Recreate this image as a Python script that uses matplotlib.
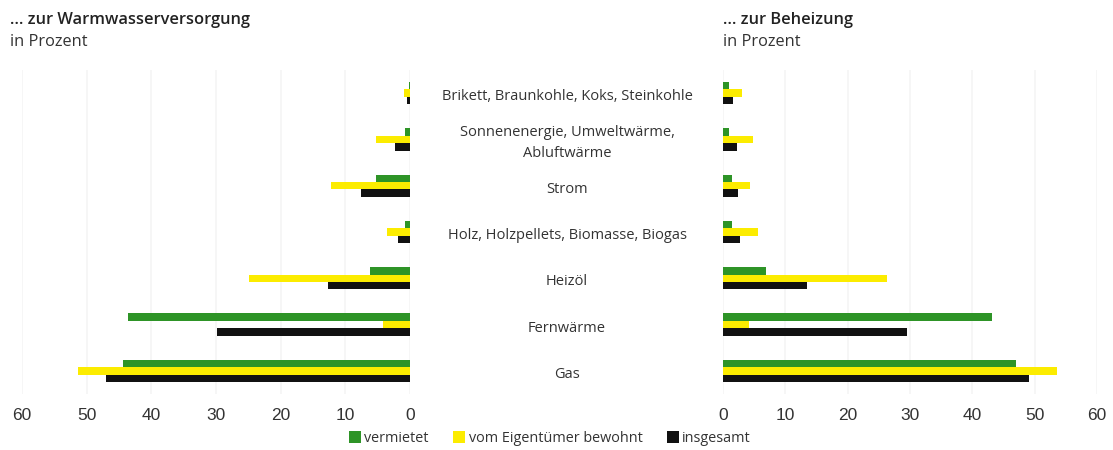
import matplotlib
matplotlib.use("Agg")
import matplotlib.pyplot as plt
import numpy as np
from matplotlib.patches import Patch

categories = ["Gas", "Fernwärme", "Heizöl", "Holz, Holzpellets, Biomasse, Biogas",
              "Strom", "Sonnenenergie, Umweltwärme,\nAbluftwärme",
              "Brikett, Braunkohle, Koks, Steinkohle"]
series = ["vermietet", "vom Eigentümer bewohnt", "insgesamt"]

# Warmwasserversorgung
ww_vermietet = [44.4, 43.6, 6.2, 0.8, 5.3, 0.8, 0.1]
ww_eigentuemer = [51.4, 4.2, 24.9, 3.6, 12.2, 5.3, 0.9]
ww_insgesamt = [47.0, 29.8, 12.7, 1.8, 7.6, 2.3, 0.4]

# Beheizung
bh_vermietet = [47.0, 43.2, 6.9, 1.5, 1.4, 1.0, 1.0]
bh_eigentuemer = [53.6, 4.2, 26.3, 5.6, 4.4, 4.8, 3.1]
bh_insgesamt = [49.1, 29.5, 13.4, 2.8, 2.4, 2.2, 1.6]

ticks = [0, 10, 20, 30, 40, 50, 60]

colors = ["#2e9427", "#fcec00", "#111111"]
text_col = "#333333"

fig = plt.figure(figsize=(11.13, 4.5), dpi=100)
axL = fig.add_axes([22/1113, 1-394/450, 388/1113, 324/450])
axR = fig.add_axes([723/1113, 1-394/450, 374/1113, 324/450])

y = np.arange(len(categories))
h = 0.16
offs = [h, 0, -h]

for ax, data in [(axL, [ww_vermietet, ww_eigentuemer, ww_insgesamt]),
                 (axR, [bh_vermietet, bh_eigentuemer, bh_insgesamt])]:
    for vals, off, c, lab in zip(data, offs, colors, series):
        ax.barh(y + off, vals, height=h, color=c, label=lab, zorder=3)
    ax.set_xlim(0, 60)
    ax.set_ylim(-0.5, 6.5)
    ax.set_xticks(ticks)
    ax.set_xticklabels([str(t) for t in ticks], fontsize=12.5, color=text_col,
                       family="Liberation Sans")
    ax.tick_params(axis="x", length=0, pad=10)
    ax.set_yticks([])
    for s in ax.spines.values():
        s.set_visible(False)
    ax.grid(axis="x", color="#f5f5f5", linewidth=1.2, zorder=0)

axL.invert_xaxis()

# category labels in the middle
for yi, cat in zip(y, categories):
    axL.annotate(cat, xy=(0, yi), xycoords="data", xytext=(567, -2.5),
                 textcoords=("figure pixels", "offset points"),
                 ha="center", va="center", fontsize=10.5, color=text_col,
                 family="Open Sans", linespacing=1.5)

fig.text(10/1113, 1-20/450, "... zur Warmwasserversorgung", fontsize=11.8,
         fontweight="semibold", family="Open Sans", color="#222222", va="center")
fig.text(10/1113, 1-42/450, "in Prozent", fontsize=11.8, family="Open Sans",
         color="#333333", va="center")
fig.text(723/1113, 1-20/450, "... zur Beheizung", fontsize=11.8,
         fontweight="semibold", family="Open Sans", color="#222222", va="center")
fig.text(723/1113, 1-42/450, "in Prozent", fontsize=11.8, family="Open Sans",
         color="#333333", va="center")

handles = [Patch(facecolor=c, edgecolor="none") for c in colors]
fig.legend(handles, series, loc="center", bbox_to_anchor=(550/1113, 1-438/450),
           ncol=3, frameon=False, handlelength=0.8, handleheight=0.9,
           handletextpad=0.25, columnspacing=1.7,
           prop={"family": "Open Sans", "size": 10.4})
for t in fig.legends[0].get_texts():
    t.set_color(text_col)

fig.savefig("out.png", dpi=100)
